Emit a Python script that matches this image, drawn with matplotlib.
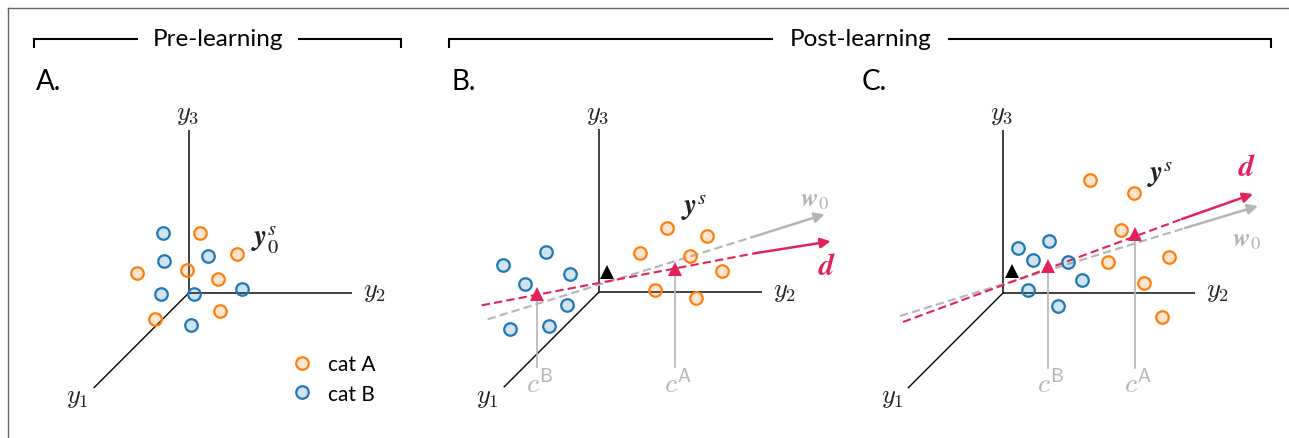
import matplotlib
matplotlib.use("Agg")
import matplotlib.pyplot as plt

plt.rcParams["font.family"] = ["Lato", "DejaVu Sans"]
plt.rcParams["mathtext.fontset"] = "cm"

W, H = 1289, 439
S = 10.0  # pixels per unit in the panel frames

orange = "#ff7f0e"
blue = "#1f77b4"
pink = "#e3225c"
grey = "#b5b5b5"

# panel A (pre-learning), coordinates relative to the axis origin
a_catA_x = [1.1, 4.8, -5.2, -0.2, 2.9, -3.4, 3.1]
a_catA_y = [6.0, 3.9, 2.0, 2.3, 1.4, -2.6, -1.8]
a_catB_x = [-2.6, -2.5, 1.9, -2.8, 0.5, 5.3, 0.2]
a_catB_y = [6.0, 3.2, 3.7, -0.1, -0.1, 0.4, -3.2]

# panel B
b_catA_x = [6.8, 10.8, 4.1, 9.1, 12.3, 5.6, 9.7]
b_catA_y = [6.4, 5.6, 3.9, 3.6, 2.1, 0.2, -0.6]
b_catB_x = [-9.6, -5.3, -7.4, -2.9, -3.2, -8.9, -5.0]
b_catB_y = [2.7, 4.0, 0.8, 1.8, -1.3, -3.7, -3.4]
b_ref = (0.8, 2.0)
b_cent_x = [-6.2, 7.6]   # c^B, c^A
b_cent_y = [-0.2, 2.3]
b_d = [(-11.7, -1.3), (15.6, 3.9), (23.2, 5.1)]    # start, end of dashes, tip
b_w0 = [(-11.1, -2.7), (15.3, 5.5), (22.6, 7.8)]

# panel C
c_catA_x = [8.7, 13.1, 11.8, 10.5, 16.6, 14.1, 15.9]
c_catA_y = [11.3, 10.0, 6.3, 3.1, 3.6, 1.0, -2.4]
c_catB_x = [1.5, 4.6, 3.0, 6.5, 7.9, 2.5, 5.5]
c_catB_y = [4.5, 5.2, 3.3, 3.1, 1.3, 0.3, -1.3]
c_ref = (0.9, 2.2)
c_cent_x = [4.5, 13.2]
c_cent_y = [2.7, 5.9]
c_d = [(-10.0, -2.9), (17.9, 7.4), (25.0, 9.9)]
c_w0 = [(-10.3, -2.3), (18.2, 6.5), (25.5, 8.7)]

fig = plt.figure(figsize=(W / 100, H / 100), dpi=100)

# background axes in pixel coordinates for frame and headers
bg = fig.add_axes([0, 0, 1, 1])
bg.set_xlim(0, W)
bg.set_ylim(H, 0)
bg.axis("off")
bg.plot([7.5, W], [8.5, 8.5], color="#666666", lw=1.0)
bg.plot([7.5, 7.5], [8.5, H], color="#666666", lw=1.0)


def bracket(x0, x1, gap0, gap1, text):
    y = 40
    bg.plot([x0, x0, gap0], [47.5, y, y], color="black", lw=1.5, solid_joinstyle="miter")
    bg.plot([gap1, x1, x1], [y, y, 47.5], color="black", lw=1.5, solid_joinstyle="miter")
    bg.text((gap0 + gap1) / 2, y - 1, text, ha="center", va="center", fontsize=17.5)


bracket(33.5, 401, 136.5, 299, "Pre-learning")
bracket(449, 1271, 771.5, 949, "Post-learning")

for lab, x in [("A.", 36), ("B.", 452), ("C.", 862)]:
    bg.text(x, 82, lab, ha="left", va="center", fontsize=20)


def panel(ox, oy, y2len):
    ax = fig.add_axes([0, 0, 1, 1])
    ax.set_xlim(-ox / S, (W - ox) / S)
    ax.set_ylim((oy - H) / S, oy / S)
    ax.axis("off")
    ax.patch.set_alpha(0)
    ax.plot([0, 0], [0, 16.3], color="#333333", lw=1.3, solid_capstyle="butt")
    ax.plot([0, y2len], [0, 0], color="#333333", lw=1.3, solid_capstyle="butt")
    ax.plot([0, -9.45], [0, -9.45], color="black", lw=1.0)
    kw = dict(fontsize=19, color="#222222", ha="center", va="center")
    ax.text(-0.1, 17.9, r"$y_3$", **kw)
    ax.text(y2len + 2.3, 0.2, r"$y_2$", **kw)
    ax.text(-11.1, -10.4, r"$y_1$", **kw)
    return ax


def dots(ax, xs, ys, col, label=None):
    ax.plot(xs, ys, "o", ms=9.0, mew=1.6, mec=col,
            mfc=matplotlib.colors.to_rgba(col, 0.2), label=label, zorder=5)


def direction(ax, pts, col):
    (x0, y0), (x1, y1), (x2, y2) = pts
    ax.plot([x0, x1], [y0, y1], "--", color=col, lw=1.5, dashes=(4, 2), zorder=3)
    ax.annotate("", xy=(x2, y2), xytext=(x1, y1),
                arrowprops=dict(arrowstyle="-|>", color=col, lw=1.8,
                                mutation_scale=15, shrinkA=0, shrinkB=0), zorder=3)


def centroids(ax, cx, cy, ref):
    for x, y, s in zip(cx, cy, ["B", "A"]):
        ax.plot([x, x], [y, -7.5], color=grey, lw=1.2, zorder=2)
        ax.text(x + 0.3, -9.0, r"$c^{\mathsf{" + s + "}}$", fontsize=20, color=grey,
                ha="center", va="center")
    ax.plot(cx, cy, "^", ms=9.5, color=pink, mew=0, zorder=6)
    ax.plot([ref[0]], [ref[1]], "^", ms=9.5, color="black", mew=0, zorder=6)


bold = dict(ha="center", va="center", math_fontfamily="stix")

# A
axA = panel(188.7, 294, 16.3)
dots(axA, a_catA_x, a_catA_y, orange, "cat A")
dots(axA, a_catB_x, a_catB_y, blue, "cat B")
axA.text(7.6, 5.4, r"$\mathbfit{y}_0^s$", fontsize=21, color="#222222", **bold)
axA.legend(loc="center left", bbox_to_anchor=(9.5, -8.6), bbox_transform=axA.transData,
           frameon=False, handlelength=0.8, handletextpad=0.85, fontsize=15,
           labelspacing=0.45, borderpad=0)

# B
axB = panel(598.7, 293.3, 16.3)
direction(axB, b_w0, grey)
direction(axB, b_d, pink)
dots(axB, b_catA_x, b_catA_y, orange)
dots(axB, b_catB_x, b_catB_y, blue)
centroids(axB, b_cent_x, b_cent_y, b_ref)
axB.text(9.5, 8.5, r"$\mathbfit{y}^s$", fontsize=21, color="#222222", **bold)
axB.text(22.9, 2.7, r"$\mathbfit{d}$", fontsize=22, color=pink, **bold)
axB.text(21.6, 9.4, r"$\mathbfit{w}_0$", fontsize=19, color=grey, **bold)

# C
axC = panel(1003, 294, 19.2)
direction(axC, c_w0, grey)
direction(axC, c_d, pink)
dots(axC, c_catA_x, c_catA_y, orange)
dots(axC, c_catB_x, c_catB_y, blue)
centroids(axC, c_cent_x, c_cent_y, c_ref)
axC.text(15.7, 11.9, r"$\mathbfit{y}^s$", fontsize=21, color="#222222", **bold)
axC.text(24.4, 12.7, r"$\mathbfit{d}$", fontsize=22, color=pink, **bold)
axC.text(24.3, 5.4, r"$\mathbfit{w}_0$", fontsize=19, color=grey, **bold)

fig.savefig("out.png", dpi=100)
